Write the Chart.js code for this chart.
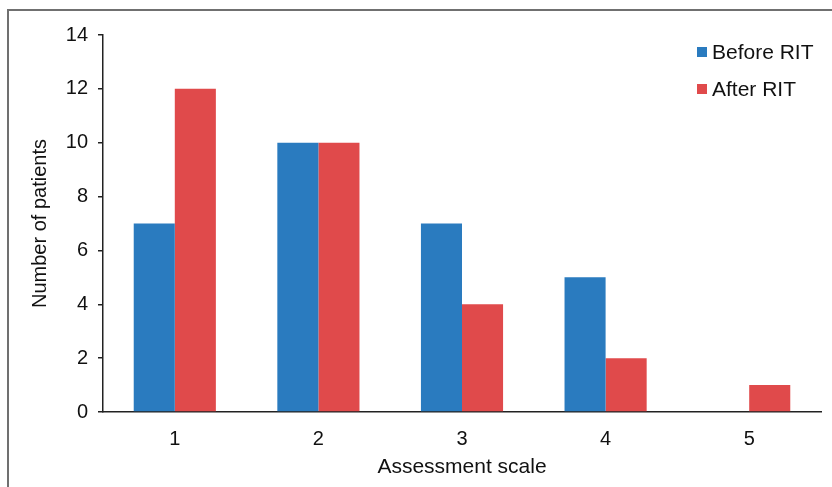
<!DOCTYPE html>
<html>
<head>
<meta charset="utf-8">
<script src="https://cdn.jsdelivr.net/npm/chart.js@4"></script>
<style>
  html, body { margin: 0; padding: 0; background: #ffffff; overflow: hidden; }
  #wrap { position: relative; width: 832px; height: 487px; }
  #frame { position: absolute; left: 7px; top: 9px; width: 900px; height: 600px;
           border-left: 2px solid #707070; border-top: 2px solid #707070; }
  canvas { position: absolute; left: 0; top: 0; }
</style>
</head>
<body>
<div id="wrap">
  <div id="frame"></div>
  <canvas id="c" width="832" height="487"></canvas>
</div>
<script>
const categories = ["1", "2", "3", "4", "5"];
const beforeRIT = [7, 10, 7, 5, 0];
const afterRIT = [12, 10, 4, 2, 1];
const seriesNames = ["Before RIT", "After RIT"];
const yTicks = [0, 2, 4, 6, 8, 10, 12, 14];
const xTitle = "Assessment scale";
const yTitle = "Number of patients";

const BLUE = "#2a7bbf";
const RED = "#e04a4b";
const FONT = "'Liberation Sans', Arial, sans-serif";

const legendPlugin = {
  id: "boxLegend",
  afterDraw(chart) {
    const ctx = chart.ctx;
    ctx.save();
    const x0 = 697, ys = [52, 89], box = 10;
    chart.data.datasets.forEach((ds, i) => {
      ctx.fillStyle = ds.backgroundColor;
      ctx.fillRect(x0, ys[i] - box / 2, box, box);
      ctx.fillStyle = "#111";
      ctx.font = "21px " + FONT;
      ctx.textBaseline = "middle";
      ctx.textAlign = "left";
      ctx.fillText(ds.label, x0 + 15, ys[i] + 1);
    });
    ctx.restore();
  }
};

new Chart(document.getElementById("c"), {
  type: "bar",
  data: {
    labels: categories,
    datasets: [
      { label: seriesNames[0], data: beforeRIT, backgroundColor: BLUE, borderWidth: 0 },
      { label: seriesNames[1], data: afterRIT, backgroundColor: RED, borderWidth: 0 }
    ]
  },
  options: {
    responsive: false,
    animation: false,
    devicePixelRatio: 1,
    layout: { padding: { left: 0, right: 11, top: 35, bottom: 0 } },
    plugins: { legend: { display: false }, tooltip: { enabled: false } },
    datasets: { bar: { categoryPercentage: 0.572, barPercentage: 1.0 } },
    scales: {
      x: {
        grid: { display: false, drawTicks: false },
        border: { display: true, color: "#222", width: 1.5 },
        ticks: { color: "#111", font: { family: FONT, size: 20 }, padding: 15, maxRotation: 0 },
        title: { display: true, text: xTitle, color: "#111",
                 font: { family: FONT, size: 21 }, padding: { top: 0, bottom: 7 } },
        afterFit(scale) { scale.height = 75; }
      },
      y: {
        min: 0, max: 14,
        afterBuildTicks(scale) { scale.ticks = yTicks.map(v => ({ value: v })); },
        grid: { display: true, drawOnChartArea: false, drawTicks: true, tickLength: 5, color: "#222", lineWidth: 1.5 },
        border: { display: true, color: "#222", width: 1.5 },
        ticks: { color: "#111", font: { family: FONT, size: 20 }, padding: 10 },
        title: { display: true, text: yTitle, color: "#111",
                 font: { family: FONT, size: 20 }, padding: { top: 28, bottom: 0 } },
        afterFit(scale) { scale.width = 103; }
      }
    }
  },
  plugins: [legendPlugin]
});
</script>
</body>
</html>
